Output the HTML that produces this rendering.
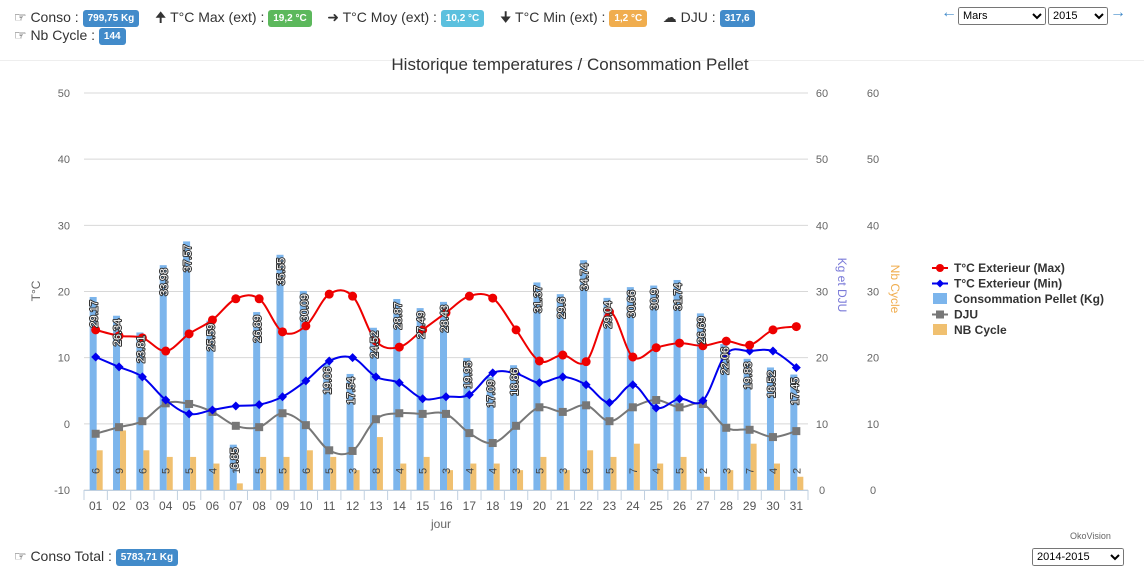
<!DOCTYPE html>
<html><head><meta charset="utf-8">
<style>
body{margin:0;width:1144px;height:584px;background:#fff;font-family:"Liberation Sans",sans-serif;overflow:hidden;position:relative}
.hdr{position:absolute;font-size:14px;color:#333;white-space:nowrap}
.badge{display:inline-block;color:#fff;font-size:10px;font-weight:bold;padding:3px 5px;border-radius:3px;vertical-align:middle;line-height:11px}
.blue{background:#428bca}.green{background:#5cb85c}.cyan{background:#5bc0de}.orange{background:#f0ad4e}
select{position:absolute;font-size:11px;height:18px}
.nav{position:absolute;color:#428bca;font-size:16px;font-weight:bold;top:4px}
</style></head><body>
<div class="hdr" style="left:14px;top:7px">
<span>☞ Conso : </span><span class="badge blue">799,75 Kg</span>&nbsp;&nbsp;&nbsp;
<span>🠉 T°C Max (ext) : </span><span class="badge green">19,2 °C</span>&nbsp;&nbsp;&nbsp;
<span>➜ T°C Moy (ext) : </span><span class="badge cyan">10,2 °C</span>&nbsp;&nbsp;&nbsp;
<span>🠋 T°C Min (ext) : </span><span class="badge orange">1,2 °C</span>&nbsp;&nbsp;&nbsp;
<span>☁ DJU : </span><span class="badge blue">317,6</span>
</div>
<div class="hdr" style="left:14px;top:27px">☞ Nb Cycle : <span class="badge blue">144</span></div>
<div style="position:absolute;left:0;right:0;top:60px;border-top:1px solid #eee"></div>
<span class="nav" style="left:941px">←</span>
<select style="left:958px;top:7px;width:88px"><option>Mars</option></select>
<select style="left:1048px;top:7px;width:60px"><option>2015</option></select>
<span class="nav" style="left:1110px">→</span>
<div class="hdr" style="left:14px;top:548px">☞ Conso Total : <span class="badge blue">5783,71 Kg</span></div>
<div style="position:absolute;left:1070px;top:531px;font-size:9px;color:#666">OkoVision</div>
<select style="left:1032px;top:548px;width:92px"><option>2014-2015</option></select>
<svg id="c" width="1144" height="584" style="position:absolute;left:0;top:0"></svg>
<script>
const days=["01","02","03","04","05","06","07","08","09","10","11","12","13","14","15","16","17","18","19","20","21","22","23","24","25","26","27","28","29","30","31"];
const pellet=[29.17,26.34,23.81,33.98,37.57,25.59,6.85,26.89,35.55,30.09,19.06,17.54,24.52,28.87,27.49,28.43,19.95,17.09,18.86,31.37,29.6,34.74,29.04,30.66,30.9,31.74,26.69,22.06,19.83,18.52,17.45];
const cycles=[6,9,6,5,5,4,1,5,5,6,5,3,8,4,5,3,4,4,3,5,3,6,5,7,4,5,2,3,7,4,2];
const tmax=[14.2,13.3,13,11,13.6,15.7,18.9,18.9,13.9,14.8,19.6,19.3,12.5,11.6,14.2,16.8,19.3,19,14.2,9.5,10.4,9.4,16.9,10.1,11.5,12.2,11.8,12.5,11.9,14.2,14.7];
const tmin=[10.1,8.6,7.1,3.6,1.5,2.1,2.7,2.9,4.1,6.5,9.5,10,7.1,6.2,3.8,4.1,4.4,7.7,7.6,6.2,7.1,5.9,3.2,5.9,2.4,3.8,3.5,10.6,11,11,8.5];
const dju=[8.5,9.5,10.4,13.1,13,11.8,9.7,9.5,11.6,9.8,6,5.9,10.7,11.6,11.5,11.5,8.6,7.1,9.7,12.5,11.8,12.8,10.4,12.5,13.6,12.5,13,9.4,9.1,8,8.9];
const tTicks=[-10,0,10,20,30,40,50];
const kTicks=[0,10,20,30,40,50,60];
const NS="http://www.w3.org/2000/svg",svg=document.getElementById('c');
const X0=84,X1=808,Y0=490,Y1=93;
const bw=(X1-X0)/days.length;
const xc=i=>X0+bw*(i+0.5);
const yT=v=>Y0-(v+10)/60*(Y0-Y1);
const yK=v=>Y0-v/60*(Y0-Y1);
function el(t,a,p){const e=document.createElementNS(NS,t);for(const k in a)e.setAttribute(k,a[k]);(p||svg).appendChild(e);return e;}
function txt(x,y,s,a){const e=el('text',Object.assign({x:x,y:y,'font-size':11,fill:'#666','font-family':'Liberation Sans, sans-serif'},a||{}));e.textContent=s;return e;}
tTicks.forEach((v,i)=>{
 const g=el('line',{x1:X0,x2:X1,y1:yT(v),y2:yT(v),stroke:'#d8d8d8'});
 
 const l=txt(70,yT(v)+4,String(v),{'text-anchor':'end'});
 
});
kTicks.forEach(v=>{
 const a=txt(822,yK(v)+4,String(v),{'text-anchor':'middle'});
 
 const b=txt(873,yK(v)+4,String(v),{'text-anchor':'middle'});
 
});
el('line',{x1:X0,x2:X1,y1:Y0+0.5,y2:Y0+0.5,stroke:'#c0d0e0'});
days.forEach((d,i)=>{
 el('line',{x1:X0+bw*i,x2:X0+bw*i,y1:Y0,y2:Y0+10,stroke:'#c0d0e0'});
 const t=txt(xc(i),Y0+20,d,{'text-anchor':'middle',fill:'#555',"font-size":12});
 
});
el('line',{x1:X1,x2:X1,y1:Y0,y2:Y0+10,stroke:'#c0d0e0'});
let t=txt(441,528,'jour',{'text-anchor':'middle','font-size':12});
t=txt(570,70,'Historique temperatures / Consommation Pellet',{'text-anchor':'middle','font-size':17,fill:'#333'});
t=txt(0,0,'T°C',{'text-anchor':'middle','font-size':12,transform:'translate(40,291) rotate(-90)'});
t=txt(0,0,'Kg et DJU',{'text-anchor':'middle','font-size':12,fill:'#7a7ad8',transform:'translate(838,285) rotate(90)'});
t=txt(0,0,'Nb Cycle',{'text-anchor':'middle','font-size':12,fill:'#f0ad4e',transform:'translate(891,289) rotate(90)'});
pellet.forEach((v,i)=>{
 const x=xc(i)-6,y=yK(v);
 const r=el('rect',{x:x,y:y,width:7,height:Y0-y,fill:'#7cb5ec'});
 
});
cycles.forEach((v,i)=>{
 const x=xc(i)+1,y=yK(v);
 const r=el('rect',{x:x,y:y,width:6,height:Y0-y,fill:'#f0c070'});
 
 const l=txt(0,0,String(v),{'font-size':11,fill:'#444','text-anchor':'start',transform:`translate(${xc(i)+4},${Y0-16}) rotate(-90)`});
 
});
function smooth(pts){let d=`M${pts[0][0]},${pts[0][1]}`;for(let i=0;i<pts.length-1;i++){const p0=pts[i-1]||pts[i],p1=pts[i],p2=pts[i+1],p3=pts[i+2]||p2;const k=0.17;d+=` C${p1[0]+(p2[0]-p0[0])*k},${p1[1]+(p2[1]-p0[1])*k} ${p2[0]-(p3[0]-p1[0])*k},${p2[1]-(p3[1]-p1[1])*k} ${p2[0]},${p2[1]}`;}return d;}
function series(vals,yf,col,kind,name){
 const pts=vals.map((v,i)=>[xc(i),yf(v)]);
 const p=el('path',{d:smooth(pts),fill:'none',stroke:col,'stroke-width':2});
 
 pts.forEach(q=>{let m;
  if(kind==='c')m=el('circle',{cx:q[0],cy:q[1],r:4.5,fill:col});
  else if(kind==='d')m=el('path',{d:`M${q[0]},${q[1]-4.5}L${q[0]+4.5},${q[1]}L${q[0]},${q[1]+4.5}L${q[0]-4.5},${q[1]}Z`,fill:col});
  else m=el('rect',{x:q[0]-4,y:q[1]-4,width:8,height:8,fill:col});
  });
}
series(dju,yK,'#777','s','dju');
series(tmin,yT,'#0000ee','d','tmin');
series(tmax,yT,'#ee0000','c','tmax');
pellet.forEach((v,i)=>{
 const x=xc(i)-2,y=yK(v);
 const l=txt(0,0,String(v),{'font-size':11,fill:'#fff',stroke:'#333','stroke-width':2,'stroke-linejoin':'round','paint-order':'stroke','text-anchor':'end',transform:`translate(${x+4},${y+3}) rotate(-90)`});
 
});
const leg=[['T°C Exterieur (Max)','#ee0000','c'],['T°C Exterieur (Min)','#0000ee','d'],['Consommation Pellet (Kg)','#7cb5ec','b'],['DJU','#777','s'],['NB Cycle','#f0c070','b']];
leg.forEach((L,i)=>{const y=268+i*15.5;const g=el('g',{});
 
 if(L[2]==='b')el('rect',{x:933,y:y-6,width:14,height:11,fill:L[1]},g);
 else{el('line',{x1:932,x2:948,y1:y,y2:y,stroke:L[1],'stroke-width':2},g);
  if(L[2]==='c')el('circle',{cx:940,cy:y,r:4,fill:L[1]},g);
  else if(L[2]==='d')el('path',{d:`M940,${y-4}L944,${y}L940,${y+4}L936,${y}Z`,fill:L[1]},g);
  else el('rect',{x:936,y:y-4,width:8,height:8,fill:L[1]},g);}
 const tt=el('text',{x:954,y:y+4,'font-size':12,'font-weight':'bold',fill:'#333','font-family':'Liberation Sans, sans-serif'},g);tt.textContent=L[0];
});
</script>
</body></html>
